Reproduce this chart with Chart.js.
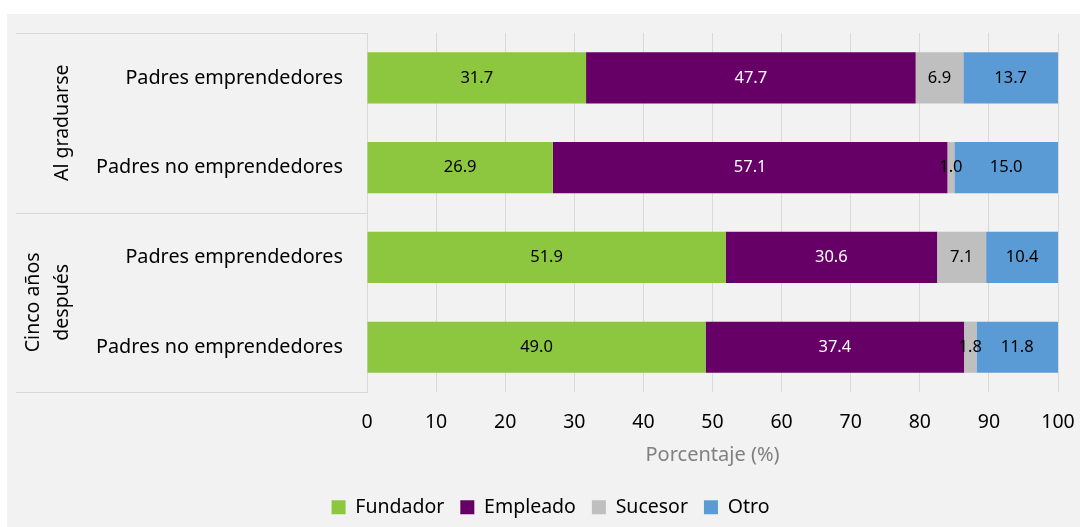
<!DOCTYPE html>
<html>
<head>
<meta charset="utf-8">
<script src="https://cdn.jsdelivr.net/npm/chart.js@4"></script>
<style>
  body { margin: 0; background: #ffffff; }
  #panel { position: absolute; left: 7px; top: 14px; width: 1073px; height: 513px; background: #f2f2f2; }
</style>
</head>
<body>
<div id="panel"><canvas id="chart"></canvas></div>
<script>
const categories = [ "Padres emprendedores", "Padres no emprendedores", "Padres emprendedores", "Padres no emprendedores" ];
const groups = [ [ "Al graduarse" ], [ "Cinco años", "después" ] ];

const fundador = [ 31.7, 26.9, 51.9, 49.0 ];
const empleado = [ 47.7, 57.1, 30.6, 37.4 ];
const sucesor = [ 6.9, 1.0, 7.1, 1.8 ];
const otro = [ 13.7, 15.0, 10.4, 11.8 ];

const xTicks = [ 0, 10, 20, 30, 40, 50, 60, 70, 80, 90, 100 ];

const FONT = "'Noto Sans', sans-serif";

// Value labels centred in every segment
const segmentLabels = {
  id: "segmentLabels",
  afterDatasetsDraw( chart ) {
    let ctx = chart.ctx;
    ctx.save();
    ctx.font = "16.5px " + FONT;
    ctx.textAlign = "center";
    ctx.textBaseline = "middle";
    chart.data.datasets.forEach( ( ds, i ) => {
      chart.getDatasetMeta( i ).data.forEach( ( bar, j ) => {
        ctx.fillStyle = ds.labelColor;
        ctx.fillText( ds.data[ j ].toFixed( 1 ), ( bar.x + bar.base ) / 2, bar.y );
      } );
    } );
    ctx.restore();
  }
};

// Group labels and separator lines on the left
const groupLabels = {
  id: "groupLabels",
  afterLayout( chart ) {
    // legend sits a little right of the canvas centre in the original
    chart.legend.left += 18;
    chart.legend.right += 18;
  },
  afterDraw( chart ) {
    let ctx = chart.ctx;
    let area = chart.chartArea;
    let y = chart.scales.y;
    let mid = ( y.getPixelForValue( 1 ) + y.getPixelForValue( 2 ) ) / 2;
    let bounds = [ [ area.top, mid ], [ mid, area.bottom ] ];

    ctx.save();
    ctx.strokeStyle = "#d9d9d9";
    ctx.lineWidth = 1;
    [ area.top, mid, area.bottom ].forEach( ( py ) => {
      ctx.beginPath();
      ctx.moveTo( 9, Math.round( py ) + 0.5 );
      ctx.lineTo( area.left, Math.round( py ) + 0.5 );
      ctx.stroke();
    } );

    ctx.fillStyle = "#000000";
    ctx.font = "19.5px " + FONT;
    ctx.textAlign = "center";
    ctx.textBaseline = "middle";
    groups.forEach( ( lines, g ) => {
      let cy = ( bounds[ g ][ 0 ] + bounds[ g ][ 1 ] ) / 2;
      let startX = 55 - ( lines.length - 1 ) * 29;
      lines.forEach( ( text, k ) => {
        ctx.save();
        ctx.translate( startX + k * 29, cy );
        ctx.rotate( -Math.PI / 2 );
        ctx.fillText( text, 0, 0 );
        ctx.restore();
      } );
    } );
    ctx.restore();
  }
};

new Chart( document.getElementById( "chart" ), {
  type: "bar",
  data: {
    labels: categories,
    datasets: [
      { label: "Fundador", data: fundador, backgroundColor: "#8dc63f", labelColor: "#000000" },
      { label: "Empleado", data: empleado, backgroundColor: "#660066", labelColor: "#ffffff" },
      { label: "Sucesor", data: sucesor, backgroundColor: "#bfbfbf", labelColor: "#000000" },
      { label: "Otro", data: otro, backgroundColor: "#5b9bd5", labelColor: "#000000" }
    ]
  },
  options: {
    indexAxis: "y",
    responsive: true,
    maintainAspectRatio: false,
    animation: false,
    barPercentage: 0.57,
    categoryPercentage: 1,
    layout: { padding: { top: 19, right: 22, left: 0, bottom: 0 } },
    plugins: {
      legend: {
        position: "bottom",
        labels: { color: "#000000", font: { family: FONT, size: 19.5 }, boxWidth: 14, boxHeight: 14, padding: 16 }
      },
      tooltip: { enabled: false }
    },
    scales: {
      x: {
        stacked: true,
        min: 0,
        max: 100,
        afterBuildTicks: ( scale ) => { scale.ticks = xTicks.map( ( v ) => ( { value: v } ) ); },
        afterFit: ( scale ) => { scale.paddingLeft = 0; scale.paddingRight = 0; },
        grid: { color: "#d9d9d9", drawTicks: false },
        border: { display: false },
        ticks: { color: "#000000", font: { family: FONT, size: 19.5 }, padding: 19 },
        title: { display: true, text: "Porcentaje (%)", color: "#808080", font: { family: FONT, size: 20 }, padding: { top: -10, bottom: 14 } }
      },
      y: {
        stacked: true,
        afterFit: ( scale ) => { scale.width = 360; scale.paddingTop = 0; scale.paddingBottom = 0; },
        grid: { display: false },
        border: { color: "#d9d9d9" },
        ticks: { color: "#000000", font: { family: FONT, size: 19.8 }, padding: 16 }
      }
    }
  },
  plugins: [ segmentLabels, groupLabels ]
} );
</script>
</body>
</html>
